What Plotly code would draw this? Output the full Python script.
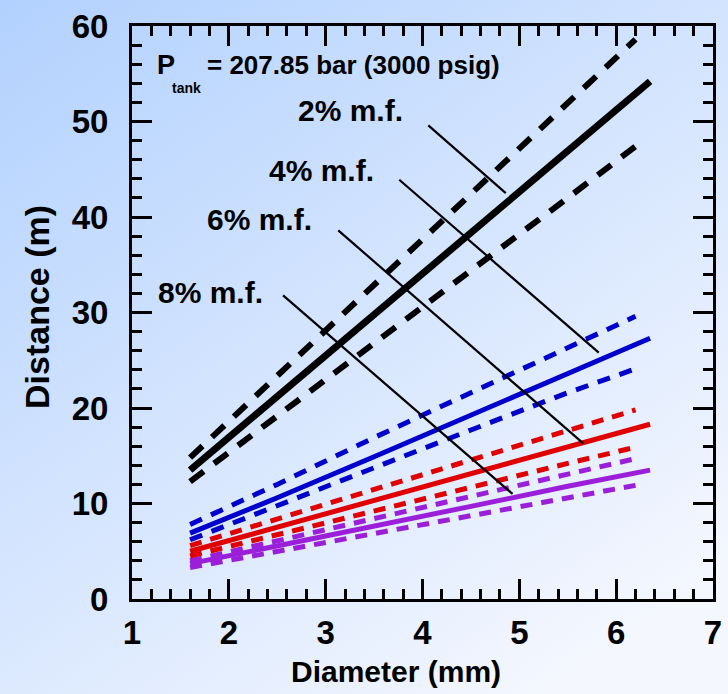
import base64
import plotly.graph_objects as go

# ---------------- data ----------------
x_solid = [1.6, 2.5, 3.5, 4.5, 5.5, 6.35]
x_dash = [1.6, 2.5, 3.5, 4.5, 5.5, 6.2]

mf2_mid = [13.5, 21.2, 29.8, 38.4, 46.9, 54.2]
mf2_up = [14.8, 23.4, 32.9, 42.4, 51.9, 58.6]
mf2_lo = [12.3, 19.2, 26.8, 34.4, 42.0, 47.4]

mf4_mid = [6.9, 10.6, 14.9, 19.3, 23.6, 27.3]
mf4_up = [7.8, 12.0, 16.9, 21.6, 26.4, 29.6]
mf4_lo = [6.2, 9.8, 13.8, 17.7, 21.6, 24.1]

mf6_mid = [5.0, 7.5, 10.3, 13.1, 15.9, 18.3]
mf6_up = [5.6, 8.4, 11.5, 14.6, 17.6, 19.8]
mf6_lo = [4.5, 6.7, 9.2, 11.7, 14.2, 15.9]

mf8_mid = [3.7, 5.6, 7.6, 9.7, 11.8, 13.5]
mf8_up = [4.0, 6.1, 8.4, 10.8, 13.1, 14.7]
mf8_lo = [3.3, 5.0, 6.9, 8.7, 10.6, 11.9]

labels = ["2% m.f.", "4% m.f.", "6% m.f.", "8% m.f."]
label_x = [3.26, 2.96, 2.32, 1.81]
label_y = [51.1, 44.9, 39.7, 32.1]
leader_x = [[4.06, 4.86], [3.76, 5.82], [3.13, 5.66], [2.56, 4.93]]
leader_y = [[49.6, 42.5], [43.9, 25.8], [38.6, 16.3], [31.8, 11.0]]

x_ticks = [1, 2, 3, 4, 5, 6, 7]
y_ticks = [0, 10, 20, 30, 40, 50, 60]

# ---------------- figure ----------------
fig = go.Figure()

groups = [
    (mf8_mid, mf8_up, mf8_lo, "#9b1fd8", 5, 5, "12px,9px"),
    (mf6_mid, mf6_up, mf6_lo, "#e00000", 5, 5, "12px,9px"),
    (mf4_mid, mf4_up, mf4_lo, "#0000cc", 5, 5, "13px,10px"),
    (mf2_mid, mf2_up, mf2_lo, "#000000", 7, 6, "17px,13px"),
]
for mid, up, lo, col, wsol, wdash, dash in groups:
    fig.add_trace(go.Scatter(x=x_dash, y=up, mode="lines",
                             line=dict(color=col, width=wdash, dash=dash),
                             hoverinfo="skip", showlegend=False))
    fig.add_trace(go.Scatter(x=x_dash, y=lo, mode="lines",
                             line=dict(color=col, width=wdash, dash=dash),
                             hoverinfo="skip", showlegend=False))
    fig.add_trace(go.Scatter(x=x_solid, y=mid, mode="lines",
                             line=dict(color=col, width=wsol),
                             hoverinfo="skip", showlegend=False))

for lx, ly in zip(leader_x, leader_y):
    fig.add_trace(go.Scatter(x=lx, y=ly, mode="lines",
                             line=dict(color="black", width=2.2),
                             hoverinfo="skip", showlegend=False))

font_main = "Liberation Sans, Arial, sans-serif"

for t, lx, ly in zip(labels, label_x, label_y):
    fig.add_annotation(x=lx, y=ly, text="<b>" + t + "</b>", showarrow=False,
                       font=dict(family=font_main, size=30, color="black"),
                       xanchor="center", yanchor="middle")

# P_tank label (P, subscript "tank", rest of text)
fig.add_annotation(x=1.235, y=55.9, xanchor="left", yanchor="middle",
                   text="<b>P</b>", showarrow=False,
                   font=dict(family=font_main, size=27, color="black"))
fig.add_annotation(x=1.39, y=53.5, xanchor="left", yanchor="middle",
                   text="<b>tank</b>", showarrow=False,
                   font=dict(family=font_main, size=14, color="black"))
fig.add_annotation(x=1.75, y=55.9, xanchor="left", yanchor="middle",
                   text="<b>= 207.85 bar (3000 psig)</b>", showarrow=False,
                   font=dict(family=font_main, size=26, color="black"))

# axis titles
fig.add_annotation(xref="paper", yref="paper", x=396 / 728, y=1 - 671 / 694,
                   text="<b>Diameter (mm)</b>", showarrow=False,
                   font=dict(family=font_main, size=30, color="black"),
                   xanchor="center", yanchor="middle")
fig.add_annotation(xref="paper", yref="paper", x=37 / 728, y=1 - 307 / 694,
                   text="<b>Distance (m)</b>", showarrow=False, textangle=-90,
                   font=dict(family=font_main, size=34, color="black"),
                   xanchor="center", yanchor="middle")

# gradient background
svg = ("<svg xmlns='http://www.w3.org/2000/svg' width='728' height='694' preserveAspectRatio='none'>"
       "<defs><linearGradient id='g' x1='0' y1='0' x2='0.75' y2='1'>"
       "<stop offset='0' stop-color='#b2d1fe'/>"
       "<stop offset='1' stop-color='#f4f7fe'/>"
       "</linearGradient></defs>"
       "<rect width='728' height='694' fill='url(#g)'/></svg>")
src = "data:image/svg+xml;base64," + base64.b64encode(svg.encode()).decode()
fig.add_layout_image(dict(source=src, xref="paper", yref="paper", x=0, y=1,
                          sizex=1, sizey=1, sizing="stretch", layer="below",
                          xanchor="left", yanchor="top"))

axis_common = dict(
    showgrid=False, zeroline=False, showline=True, linecolor="black", linewidth=3,
    mirror="ticks", ticks="inside", ticklen=20, tickwidth=3, tickcolor="black",
    tickfont=dict(family=font_main, size=33, color="black"), automargin=False,
)

fig.update_xaxes(range=[1, 7], tickvals=x_ticks, ticktext=["<b>%d</b>" % v for v in x_ticks],
                 domain=[132 / 728, 713 / 728], ticklabelstandoff=2,
                 minor=dict(dtick=0.2, tick0=1, ticks="inside", ticklen=10, tickwidth=3,
                            tickcolor="black"),
                 **axis_common)
fig.update_yaxes(range=[0, 60], tickvals=y_ticks, ticktext=["<b>%d</b>" % v for v in y_ticks],
                 domain=[95 / 694, 668 / 694], ticklabelstandoff=14,
                 minor=dict(dtick=2, tick0=0, ticks="inside", ticklen=10, tickwidth=3,
                            tickcolor="black"),
                 **axis_common)

fig.update_layout(
    width=728, height=694,
    margin=dict(l=0, r=0, t=0, b=0, pad=0, autoexpand=False),
    paper_bgcolor="#d3e3fd",
    plot_bgcolor="rgba(0,0,0,0)",
    showlegend=False,
)

fig.write_html("out.html")
